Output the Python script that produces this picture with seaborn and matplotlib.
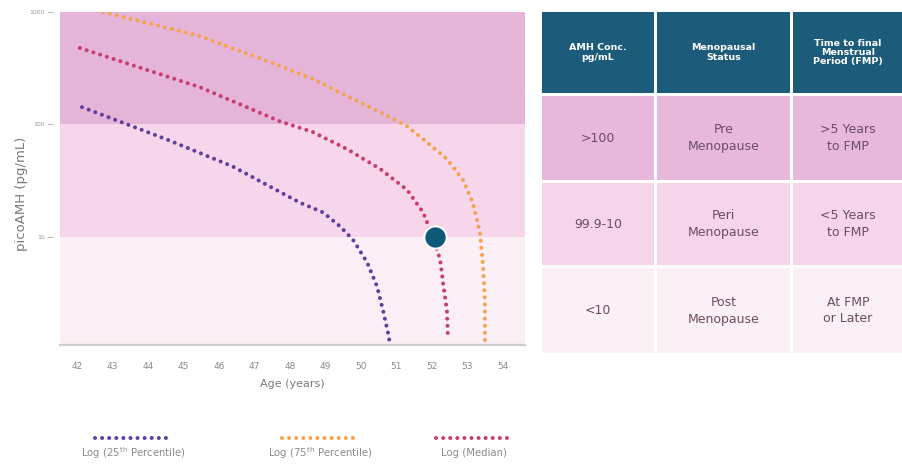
import numpy as np
import pandas as pd
import matplotlib
matplotlib.use("Agg")
import matplotlib.pyplot as plt
from matplotlib.lines import Line2D
from matplotlib.patches import Rectangle
import seaborn as sns

# ---------- data ----------
age_p25 = [42.14, 44.54, 46.39, 48.28, 48.93, 49.41, 49.77, 50.17, 50.45, 50.62, 50.76, 50.82]
amh_p25 = [142, 73, 42, 20, 16.4, 12.3, 9.4, 5.9, 3.6, 2.2, 1.39, 1.09]

age_med = [42.08, 45.46, 47.72, 48.65, 49.61, 50.54, 51.30, 51.75, 52.03, 52.23, 52.31, 52.42, 52.45]
amh_med = [478, 214, 106, 85, 60, 40, 26, 16.4, 9.8, 6.2, 3.9, 2.2, 1.2]

age_p75 = [42.73, 45.46, 47.72, 48.65, 49.61, 50.54, 51.30, 51.86, 52.42, 52.87, 53.15, 53.35, 53.44, 53.49, 53.49]
amh_p75 = [1000, 611, 330, 253, 178, 128, 96, 69, 49, 32, 20, 10.9, 5.4, 2.7, 1.2]

patient_age, patient_amh = [52.08], [9.9]

band_edges = [1, 10, 100, 1000]
band_colors = ["#faeff4", "#f7d5ea", "#e5b5d9"]

x_ticks = list(range(42, 55))
y_ticks = [10, 100, 1000]

series_names = ["Log (25$^{\\rm th}$ Percentile)", "Log (75$^{\\rm th}$ Percentile)", "Log (Median)"]
series_colors = ["#5e3f9e", "#f4a24c", "#c93d6e"]

table_header = ["AMH Conc.\npg/mL", "Menopausal\nStatus", "Time to final\nMenstrual\nPeriod (FMP)"]
table_rows = [
    [">100", "Pre\nMenopause", ">5 Years\nto FMP"],
    ["99.9-10", "Peri\nMenopause", "<5 Years\nto FMP"],
    ["<10", "Post\nMenopause", "At FMP\nor Later"],
]
table_row_colors = ["#e8b8dc", "#f6d5ea", "#fbf0f5"]

# ---------- figure ----------
sns.set_theme(style="white")
plt.rcParams["font.family"] = ["DejaVu Sans"]
fig = plt.figure(figsize=(9.03, 4.67), dpi=100)
ax = fig.add_axes([60 / 903, 122 / 467, 465 / 903, 333 / 467])

for lo, hi, c in zip(band_edges[:-1], band_edges[1:], band_colors):
    ax.axhspan(lo, hi, color=c, lw=0, zorder=0)

dot = dict(linestyle=(0, (0.01, 1.75)), linewidth=2.9, dash_capstyle="round", zorder=3)
curves = [(age_p25, amh_p25), (age_p75, amh_p75), (age_med, amh_med)]
for (xs, ys), name, col in zip(curves, series_names, series_colors):
    df = pd.DataFrame({"age": xs, "amh": ys})
    sns.lineplot(data=df, x="age", y="amh", ax=ax, color=col, estimator=None,
                 sort=False, legend=False, **dot)

sns.scatterplot(x=patient_age, y=patient_amh, ax=ax, s=260, color="#0e5a78",
                edgecolor="white", linewidth=1.5, zorder=5, legend=False)

ax.set_yscale("log")
ax.set_ylim(1.08, 1000)
ax.set_xlim(41.52, 54.62)
ax.set_xticks(x_ticks)
ax.set_xticklabels([str(t) for t in x_ticks])
ax.set_yticks(y_ticks)
ax.set_yticklabels([str(t) for t in y_ticks])
ax.minorticks_off()
for s in ["top", "right", "left"]:
    ax.spines[s].set_visible(False)
ax.spines["left"].set_position(("outward", 5))
ax.spines["bottom"].set_color("#cfcfcf")
ax.spines["bottom"].set_linewidth(1.6)
ax.tick_params(axis="x", length=0, pad=12, labelsize=6.5, labelcolor="#8a8a8a")
ax.tick_params(axis="y", left=True, length=4, width=0.8, color="#bdbdbd", pad=2,
               labelsize=4.5, labelcolor="#9a9a9a")
ax.set_xlabel("Age (years)", fontsize=8, color="#7a7a7a", labelpad=6)
ax.set_ylabel("picoAMH (pg/mL)", fontsize=9.5, color="#7a7a7a")
ax.yaxis.set_label_coords(-0.068, 0.455)

# ---------- legend below the chart ----------
leg_x = [133, 320, 474]
for cx, name, col in zip(leg_x, series_names, series_colors):
    fig.add_artist(Line2D([(cx - 38) / 903, (cx + 38) / 903], [0.062, 0.062],
                          transform=fig.transFigure, color=col, **dot))
    fig.text(cx / 903, 0.030, name, ha="center", va="center", fontsize=7.3, color="#8a8a8a")

# ---------- status table ----------
tab = fig.add_axes([542 / 903, (467 - 353) / 467, 361 / 903, 341 / 467])
tab.set_xlim(542, 903)
tab.set_ylim(353, 12)
tab.axis("off")
col_edges = [(542, 654), (657, 790), (793, 903)]
row_edges = [(12, 93), (96, 180), (183, 265), (268, 353)]

for (x0, x1), txt in zip(col_edges, table_header):
    y0, y1 = row_edges[0]
    tab.add_patch(Rectangle((x0, y0), x1 - x0, y1 - y0, color="#1c5b7a", lw=0))
    tab.text((x0 + x1) / 2, (y0 + y1) / 2, txt, ha="center", va="center",
             fontsize=6.8, color="white", fontweight="bold", linespacing=1.05)

for (y0, y1), row, rc in zip(row_edges[1:], table_rows, table_row_colors):
    for (x0, x1), txt in zip(col_edges, row):
        tab.add_patch(Rectangle((x0, y0), x1 - x0, y1 - y0, color=rc, lw=0))
        tab.text((x0 + x1) / 2, (y0 + y1) / 2, txt, ha="center", va="center",
                 fontsize=9, color="#6c4c64", linespacing=1.4)

fig.savefig("out.png", dpi=100)
